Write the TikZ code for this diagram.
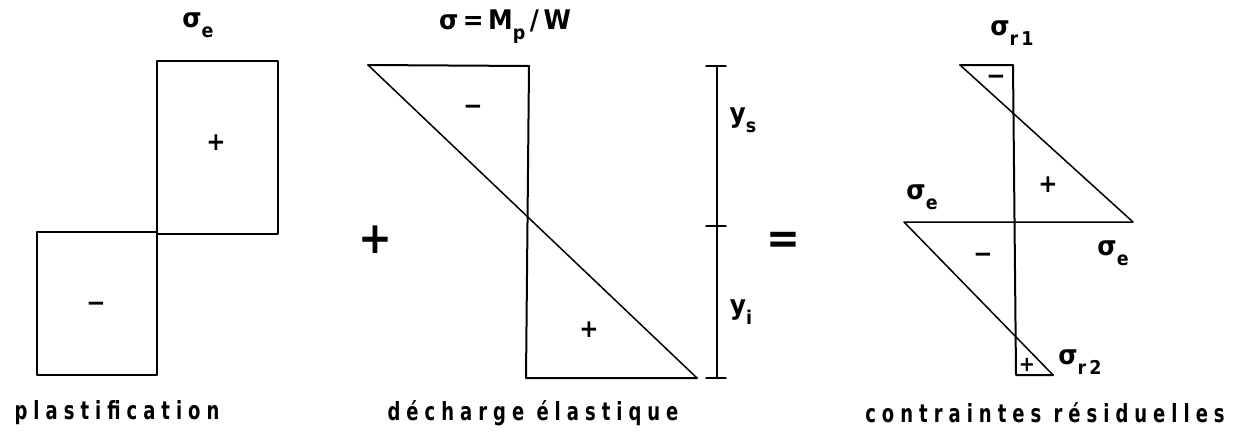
\documentclass[tikz,border=0pt]{standalone}
\usepackage{fontspec}
\setmainfont{DejaVu Sans}
\newfontfamily\lblfont[FakeStretch=0.72,LetterSpace=24]{DejaVu Sans}
\newfontfamily\symfont[FakeStretch=0.92]{DejaVu Sans}
\newcommand\mysub[1]{\raisebox{-0.38em}{\fontsize{19}{19}\selectfont #1}}
\begin{document}
\begin{tikzpicture}[x=1pt,y=-1pt,
  outline/.style={line width=2pt,line join=round,line cap=round},
  thin outline/.style={line width=1.5pt,line join=round,line cap=round},
  caption/.style={font=\lblfont\bfseries\fontsize{25}{26}\selectfont,inner sep=0pt},
  sig/.style={font=\symfont\bfseries\fontsize{27}{28}\selectfont,inner sep=0pt},
  sign/.style={font=\symfont\bfseries\fontsize{25}{25}\selectfont,inner sep=0pt},
  bigop/.style={font=\symfont\bfseries\fontsize{44}{44}\selectfont,inner sep=0pt}]
\useasboundingbox (0,0) rectangle (1238,436);

% ---------- panel 1: plastification ----------
\coordinate (p1a) at (157,61);
\coordinate (p1b) at (278,234);
\coordinate (p1c) at (37,232);
\coordinate (p1d) at (157,375);
\draw[outline] (p1a) rectangle (p1b);
\draw[outline] (p1c) rectangle (p1d);
\node[sign] (p1plus) at (216,143) {+};
\node[sign] (p1minus) at (96,307) {\symbol{"2212}};
\node[sig] (p1sig) at (198,25) {σ\mysub{e}};
\node[caption] (p1cap) at (117,413) {plastification};

% ---------- operator + ----------
\node[bigop] (plusop) at (375,240) {+};

% ---------- panel 2: decharge elastique ----------
\coordinate (p2a) at (368,65);
\coordinate (p2b) at (529,66);
\coordinate (p2c) at (526,378);
\coordinate (p2d) at (697,378);
\draw[outline] (p2a) -- (p2b) -- (p2c) -- (p2d);
\draw[thin outline] (p2a) -- (p2d);
\node[sign] (p2minus) at (473,110) {\symbol{"2212}};
\node[sign] (p2plus) at (589,330) {+};
\node[sig] (p2sig) at (505,27) {σ\,=\,M\mysub{p}\,/\,W};
\node[caption] (p2cap) at (533,413) {décharge élastique};

% dimension line
\coordinate (d1) at (717,66);
\coordinate (d2) at (717,226);
\coordinate (d3) at (717,378);
\draw[thin outline] (d1) -- (d3);
\draw[thin outline] ([xshift=-11pt]d1) -- ([xshift=9pt]d1);
\draw[thin outline] ([xshift=-11pt]d2) -- ([xshift=9pt]d2);
\draw[thin outline] ([xshift=-11pt]d3) -- ([xshift=9pt]d3);
\node[sig] (ys) at (743,120) {y\mysub{s}};
\node[sig] (yi) at (741,312) {y\mysub{i}};

% ---------- operator = ----------
\node[bigop] (eqop) at (783,243) {=};

% ---------- panel 3: contraintes residuelles ----------
\coordinate (p3a) at (960,65);
\coordinate (p3b) at (1013,65);
\coordinate (p3c) at (1016,375);
\coordinate (p3d) at (1053,375);
\coordinate (p3e) at (1133,222);
\coordinate (p3f) at (904,222);
\draw[outline] (p3a) -- (p3b) -- (p3c) -- (p3d);
\draw[thin outline] (p3a) -- (p3e) -- (p3f) -- (p3d);
\node[sign] (p3m1) at (996,80) {\symbol{"2212}};
\node[sign] (p3p1) at (1048,185) {+};
\node[sign] (p3m2) at (983,258) {\symbol{"2212}};
\node[sign,font=\symfont\bfseries\fontsize{21}{21}\selectfont] (p3p2) at (1027,365) {+};
\node[sig] (sr1) at (1012,33) {σ\mysub{r\,1}};
\node[sig] (se2) at (922,197) {σ\mysub{e}};
\node[sig] (se3) at (1113,253) {σ\mysub{e}};
\node[sig] (sr2) at (1080,362) {σ\mysub{r\,2}};
\node[caption] (p3cap) at (1045,413) {contraintes résiduelles};
\end{tikzpicture}
\end{document}
